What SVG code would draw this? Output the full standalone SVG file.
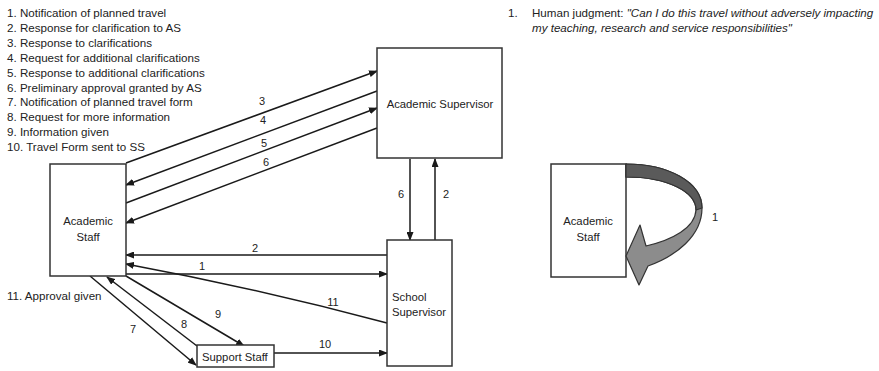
<svg xmlns="http://www.w3.org/2000/svg" width="879" height="371" viewBox="0 0 879 371">
<defs>
<marker id="ah" markerUnits="userSpaceOnUse" markerWidth="9" markerHeight="7" refX="8" refY="3.5" orient="auto">
<path d="M0,0 L9,3.5 L0,7 z" fill="#1a1a1a"/>
</marker>
<style>
text{font-family:"Liberation Sans",Arial,sans-serif;fill:#222;}
.leg{font-size:11.6px;}
.lbl{font-size:11.3px;}
.num{font-size:11px;text-anchor:middle;}
.box{fill:#fff;stroke:#333;stroke-width:1.5;}
.c{fill:none;stroke:#1a1a1a;stroke-width:1.5;}
.a{marker-end:url(#ah);}
</style>
</defs>
<rect width="879" height="371" fill="#fff"/>
<g id="legend">
<text class="leg" x="7" y="17.3">1. Notification of planned travel</text>
<text class="leg" x="7" y="32.2">2. Response for clarification to AS</text>
<text class="leg" x="7" y="47">3. Response to clarifications</text>
<text class="leg" x="7" y="61.9">4. Request for additional clarifications</text>
<text class="leg" x="7" y="76.7">5. Response to additional clarifications</text>
<text class="leg" x="7" y="91.6">6. Preliminary approval granted by AS</text>
<text class="leg" x="7" y="106.4">7. Notification of planned travel form</text>
<text class="leg" x="7" y="121.3">8. Request for more information</text>
<text class="leg" x="7" y="136.1">9. Information given</text>
<text class="leg" x="7" y="151">10. Travel Form sent to SS</text>
<text class="leg" x="7" y="300">11. Approval given</text>
</g>
<g id="note">
<text class="leg" x="508" y="17">1.</text>
<text class="leg" x="532" y="17">Human judgment: <tspan font-style="italic">"Can I do this travel without adversely impacting</tspan></text>
<text class="leg" x="532" y="32" font-style="italic">my teaching, research and service responsibilities"</text>
</g>
<g id="connectors">
<line class="c a" x1="126" y1="163" x2="377" y2="71"/>
<line class="c a" x1="377" y1="91" x2="126" y2="185"/>
<line class="c a" x1="126" y1="203" x2="377" y2="108"/>
<line class="c a" x1="377" y1="128" x2="126" y2="223"/>
<line class="c a" x1="410" y1="159" x2="410" y2="240"/>
<line class="c a" x1="435" y1="240" x2="435" y2="159"/>
<line class="c a" x1="387" y1="255" x2="126" y2="255"/>
<line class="c a" x1="126" y1="274" x2="387" y2="274"/>
<path class="c a" d="M387,323 Q255,288 126,264"/>
<line class="c a" x1="90" y1="276" x2="196" y2="365"/>
<line class="c a" x1="197" y1="346" x2="107" y2="277"/>
<line class="c a" x1="126" y1="276" x2="244" y2="346"/>
<line class="c a" x1="274" y1="353" x2="387" y2="353"/>
<text class="num" x="262" y="105">3</text>
<text class="num" x="263" y="124">4</text>
<text class="num" x="264" y="147">5</text>
<text class="num" x="266" y="166">6</text>
<text class="num" x="401" y="198">6</text>
<text class="num" x="446" y="198">2</text>
<text class="num" x="255" y="252">2</text>
<text class="num" x="202" y="270">1</text>
<text class="num" x="333" y="306">11</text>
<text class="num" x="218" y="318">9</text>
<text class="num" x="184" y="328">8</text>
<text class="num" x="133" y="333">7</text>
<text class="num" x="325" y="348">10</text>
</g>
<g id="academic-staff">
<rect class="box" x="50" y="164" width="76" height="112"/>
<text class="lbl" x="88" y="225" text-anchor="middle">Academic</text>
<text class="lbl" x="88" y="241" text-anchor="middle">Staff</text>
</g>
<g id="academic-supervisor">
<rect class="box" x="377" y="48" width="125" height="110"/>
<text class="lbl" x="440" y="108" text-anchor="middle">Academic Supervisor</text>
</g>
<g id="school-supervisor">
<rect class="box" x="387" y="240" width="65" height="126"/>
<text class="lbl" x="392" y="301">School</text>
<text class="lbl" x="392" y="316">Supervisor</text>
</g>
<g id="support-staff">
<rect class="box" x="197" y="345" width="77" height="22"/>
<text class="lbl" x="202" y="361">Support Staff</text>
</g>
<g id="academic-staff-2">
<rect class="box" x="551" y="164" width="75" height="113"/>
<text class="lbl" x="588" y="225" text-anchor="middle">Academic</text>
<text class="lbl" x="588" y="241" text-anchor="middle">Staff</text>
</g>
<g id="self-loop">
<path d="M626,164 C668,164 702,182 702,208 C702,236 676,256 648,266 L639,285 L626,256 L640,225 L646,246 C672,240 695,228 696,210 C696,192 668,177 626,177 Z" fill="#8c8c8c" stroke="#333" stroke-width="1.2" stroke-linejoin="round"/>
<path d="M626,164 C668,164 702,182 702,208 L696,210 C696,192 668,177 626,177 Z" fill="#5a5a5a" stroke="#333" stroke-width="1.2" stroke-linejoin="round"/>
<text class="num" x="715" y="221">1</text>
</g>
</svg>
